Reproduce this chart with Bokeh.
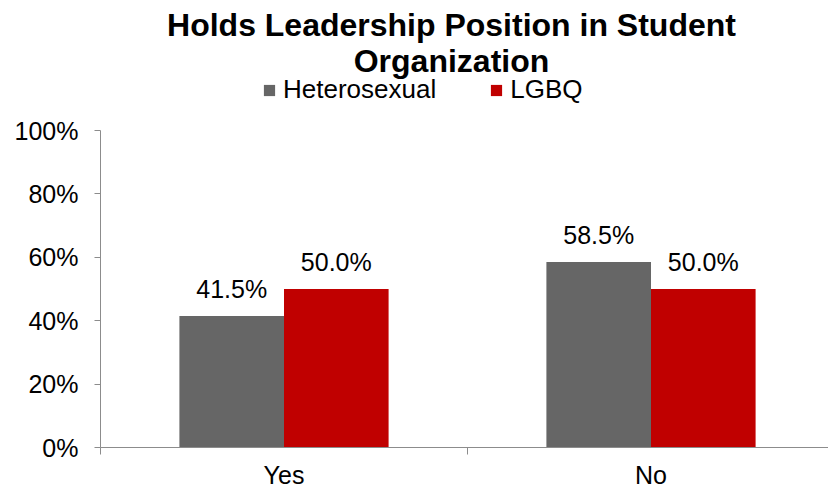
from bokeh.plotting import figure
from bokeh.models import (Range1d, FixedTicker, NumeralTickFormatter, ColumnDataSource,
                          Legend, LegendItem, LabelSet)
from bokeh.core.properties import value
from bokeh.embed import file_html
from bokeh.resources import INLINE

categories = ["Yes", "No"]
series_names = ["Heterosexual", "LGBQ"]
hetero = [0.415, 0.585]
lgbq = [0.500, 0.500]
y_ticks = [0, 0.2, 0.4, 0.6, 0.8, 1.0]
title_lines = ["Holds Leadership Position in Student", "Organization"]

FONT = "Liberation Sans"
GRAY = "#666666"
RED = "#C00000"
AXIS = "#8c8c8c"

W, H = 828, 491
left_b, bottom_b = 100, 44
frame_w = W - left_b
frame_h = H - bottom_b
px_per_cat = 367.0
px_per_unit = 317.0

p = figure(width=W, height=H, output_backend="svg", toolbar_location=None,
           x_range=Range1d(0, frame_w / px_per_cat),
           y_range=Range1d(0, frame_h / px_per_unit),
           min_border_left=left_b, min_border_right=0, min_border_top=0,
           min_border_bottom=bottom_b)
p.outline_line_color = None
p.grid.visible = False
p.background_fill_color = "white"
p.border_fill_color = "white"

bw = 0.285
xc = [i + 0.5 for i in range(len(categories))]
src = ColumnDataSource(dict(
    xh=[x - bw / 2 for x in xc], xl=[x + bw / 2 for x in xc],
    h=hetero, l=lgbq,
    hl=[f"{v*100:.1f}%" for v in hetero], ll=[f"{v*100:.1f}%" for v in lgbq]))

r1 = p.vbar(x="xh", top="h", width=bw, source=src, fill_color=GRAY, line_color=None)
r2 = p.vbar(x="xl", top="l", width=bw, source=src, fill_color=RED, line_color=None)

for xcol, ycol, tcol in [("xh", "h", "hl"), ("xl", "l", "ll")]:
    p.add_layout(LabelSet(x=xcol, y=ycol, text=tcol, source=src, text_align="center",
                          text_baseline="alphabetic", y_offset=18, text_font=value(FONT),
                          text_font_size="25px", text_color="black"))

# title lines (vertical centres)
title_y = [(frame_h - 24) / px_per_unit, (frame_h - 60) / px_per_unit]
title_x = (451 - left_b) / px_per_cat
for t, ty in zip(title_lines, title_y):
    p.text(x=[title_x], y=[ty], text=[t], text_align="center", text_baseline="middle",
           text_font=value(FONT), text_font_size="32px", text_font_style="bold",
           text_color="black")

legend = Legend(items=[LegendItem(label=series_names[0], renderers=[r1]),
                       LegendItem(label=series_names[1], renderers=[r2])],
                orientation="horizontal", location=(162, 342),
                glyph_width=14, glyph_height=14, label_standoff=7, spacing=53,
                padding=0, margin=0, border_line_color=None, background_fill_alpha=0,
                label_text_font=FONT, label_text_font_size="26px",
                label_text_color="black", label_height=20)
p.add_layout(legend, "center")

# axes
ya = p.yaxis[0]
ya.ticker = FixedTicker(ticks=y_ticks)
ya.formatter = NumeralTickFormatter(format="0%")
ya.bounds = (0, 1)
ya.axis_line_color = AXIS
ya.major_tick_line_color = AXIS
ya.major_tick_out = 6
ya.major_tick_in = 0
ya.minor_tick_line_color = None
ya.major_label_standoff = 16
ya.major_label_text_font = FONT
ya.major_label_text_font_size = "25px"
ya.major_label_text_color = "black"

xa = p.xaxis[0]
xa.ticker = FixedTicker(ticks=xc, minor_ticks=[0, 1, 2])
xa.major_label_overrides = {x: c for x, c in zip(xc, categories)}
xa.axis_line_color = AXIS
xa.major_tick_line_color = None
xa.minor_tick_line_color = AXIS
xa.minor_tick_out = 7
xa.minor_tick_in = 0
xa.major_tick_out = 0
xa.major_tick_in = 0
xa.major_label_standoff = 6
xa.major_label_text_font = FONT
xa.major_label_text_font_size = "25px"
xa.major_label_text_color = "black"

open("out.html", "w").write(file_html(p, INLINE))
